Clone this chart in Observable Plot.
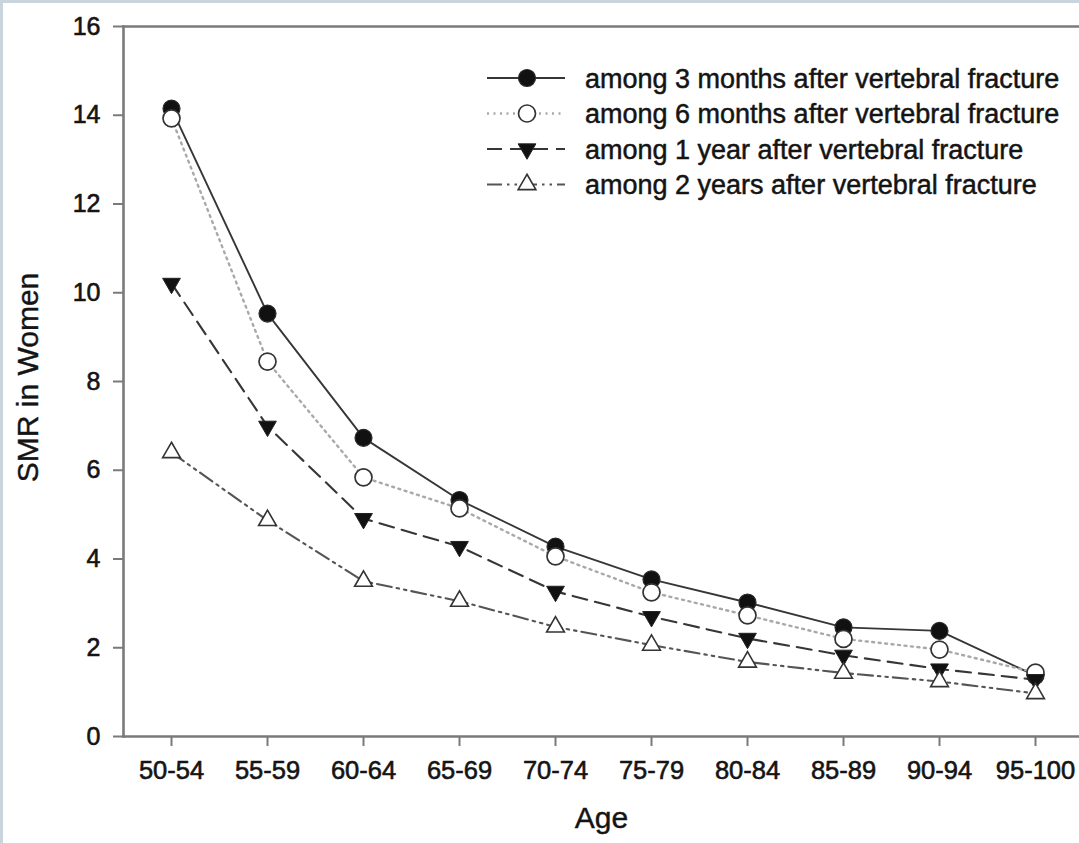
<!DOCTYPE html>
<html>
<head>
<meta charset="utf-8">
<script src="https://cdn.jsdelivr.net/npm/d3@7"></script>
<script src="https://cdn.jsdelivr.net/npm/@observablehq/plot@0.6"></script>
<style>
html, body { margin: 0; padding: 0; background: #fff; }
#wrap { position: relative; width: 1079px; height: 843px; overflow: hidden; background: #fff;
  font-family: "Liberation Sans", Arial, Helvetica, sans-serif; }
#wrap svg { display: block; }
#legend { position: absolute; left: 0; top: 0; pointer-events: none; }
#border { position: absolute; left: 0; top: 0; right: 0; bottom: 0; pointer-events: none;
  border-top: 3px solid #c9d4dd; border-left: 3px solid #c9d4dd; }
</style>
</head>
<body>
<div id="wrap"></div>
<script>
// ---- data ----
const ages = ["50-54", "55-59", "60-64", "65-69", "70-74", "75-79", "80-84", "85-89", "90-94", "95-100"];
const smr3Months = [14.15, 9.53, 6.73, 5.33, 4.28, 3.54, 3.02, 2.46, 2.38, 1.37];
const smr6Months = [13.93, 8.45, 5.84, 5.14, 4.06, 3.25, 2.73, 2.20, 1.96, 1.44];
const smr1Year   = [10.21, 6.99, 4.91, 4.28, 3.27, 2.70, 2.21, 1.83, 1.52, 1.28];
const smr2Years  = [6.40, 4.87, 3.50, 3.05, 2.47, 2.06, 1.68, 1.43, 1.24, 0.97];
const seriesNames = [
  "among 3 months after vertebral fracture",
  "among 6 months after vertebral fracture",
  "among 1 year after vertebral fracture",
  "among 2 years after vertebral fracture"
];
const yTicks = [0, 2, 4, 6, 8, 10, 12, 14, 16];
const xTitle = "Age";
const yTitle = "SMR in Women";

// ---- styles per series ----
const styles = [
  {values: smr3Months, line: {stroke: "#363636", strokeWidth: 1.9}, dot: {symbol: "circle", r: 8.5, fill: "#111", stroke: "#2a2a2a", strokeWidth: 1.2, rotate: 0}},
  {values: smr6Months, line: {stroke: "#a9a9a9", strokeWidth: 2.4, strokeDasharray: "2,4.5"}, dot: {symbol: "circle", r: 8.5, fill: "#fff", stroke: "#333", strokeWidth: 1.7, rotate: 0}},
  {values: smr1Year,   line: {stroke: "#363636", strokeWidth: 2.1, strokeDasharray: "15,8"}, dot: {symbol: "triangle", r: 6.6, fill: "#111", stroke: "#222", strokeWidth: 1, rotate: 180}},
  {values: smr2Years,  line: {stroke: "#555", strokeWidth: 2.1, strokeDasharray: "15,5,2.5,5,2.5,5"}, dot: {symbol: "triangle", r: 6.6, fill: "#fff", stroke: "#333", strokeWidth: 1.6, rotate: 0}}
];

const tables = styles.map((s, i) => ages.map((a, j) => ({age: a, v: s.values[j], series: seriesNames[i]})));

const W = 1079, H = 843;
const fontFamily = '"Liberation Sans", Arial, Helvetica, sans-serif';
const ink = "#141414";

const marks = [];
tables.forEach((t, i) => marks.push(Plot.line(t, {x: "age", y: "v", ...styles[i].line})));
tables.forEach((t, i) => marks.push(Plot.dot(t, {x: "age", y: "v", ...styles[i].dot})));

const chart = Plot.plot({
  width: W,
  height: H,
  marginLeft: 123,
  marginRight: 0,
  marginTop: 26,
  marginBottom: 107,
  style: {fontFamily, background: "#fff", color: ink, overflow: "visible"},
  x: {type: "point", domain: ages, padding: 0, insetLeft: 47, insetRight: 44},
  y: {domain: [0, 16]},
  marks: [
    Plot.frame({anchor: "left", stroke: "#7a7a7a", strokeWidth: 2.6}),
    Plot.frame({anchor: "top", stroke: "#7a7a7a", strokeWidth: 2.6}),
    Plot.frame({anchor: "bottom", stroke: "#7a7a7a", strokeWidth: 2.6}),
    Plot.axisY({ticks: yTicks, tickSize: 10, tickPadding: 13, fontSize: 25, stroke: "#7a7a7a", strokeWidth: 2, fill: ink, textStroke: ink, textStrokeWidth: 0.6, label: null}),
    Plot.axisX({tickSize: 10, tickPadding: 14, fontSize: 25.5, stroke: "#7a7a7a", strokeWidth: 2, fill: ink, textStroke: ink, textStrokeWidth: 0.6, label: null}),
    Plot.text([xTitle], {frameAnchor: "bottom", lineAnchor: "top", dy: 70, fontSize: 30, fill: ink, stroke: ink, strokeWidth: 0.4, text: d => d}),
    Plot.text([yTitle], {frameAnchor: "left", textAnchor: "middle", rotate: -90, lineAnchor: "bottom", dx: -86, dy: -4, fontSize: 30, fill: ink, stroke: ink, strokeWidth: 0.4, text: d => d}),
    ...marks
  ]
});

const wrap = document.getElementById("wrap");
wrap.appendChild(chart);

// ---- legend overlay ----
const legendX0 = 487, legendX1 = 565, legendSym = 527, legendText = 585;
const legendRows = [78, 113.5, 149, 184.5];
const svg = d3.select(wrap).append("svg")
  .attr("id", "legend").attr("width", W).attr("height", H);
styles.forEach((s, i) => {
  const g = svg.append("g").attr("transform", `translate(0,${legendRows[i]})`);
  const ln = g.append("line").attr("x1", legendX0).attr("x2", legendX1).attr("y1", 0).attr("y2", 0)
    .attr("stroke", s.line.stroke).attr("stroke-width", s.line.strokeWidth);
  if (s.line.strokeDasharray) ln.attr("stroke-dasharray", s.line.strokeDasharray);
  const symType = s.dot.symbol === "circle" ? d3.symbolCircle : d3.symbolTriangle;
  g.append("path")
    .attr("d", d3.symbol(symType, Math.PI * s.dot.r * s.dot.r)())
    .attr("transform", `translate(${legendSym},0) rotate(${s.dot.rotate})`)
    .attr("fill", s.dot.fill).attr("stroke", s.dot.stroke).attr("stroke-width", s.dot.strokeWidth);
  g.append("text").attr("x", legendText).attr("y", 0).attr("dy", "0.36em")
    .attr("font-family", fontFamily).attr("font-size", 27).attr("fill", ink)
    .attr("stroke", ink).attr("stroke-width", 0.5)
    .text(seriesNames[i]);
});

const border = document.createElement("div");
border.id = "border";
wrap.appendChild(border);
</script>
</body>
</html>
